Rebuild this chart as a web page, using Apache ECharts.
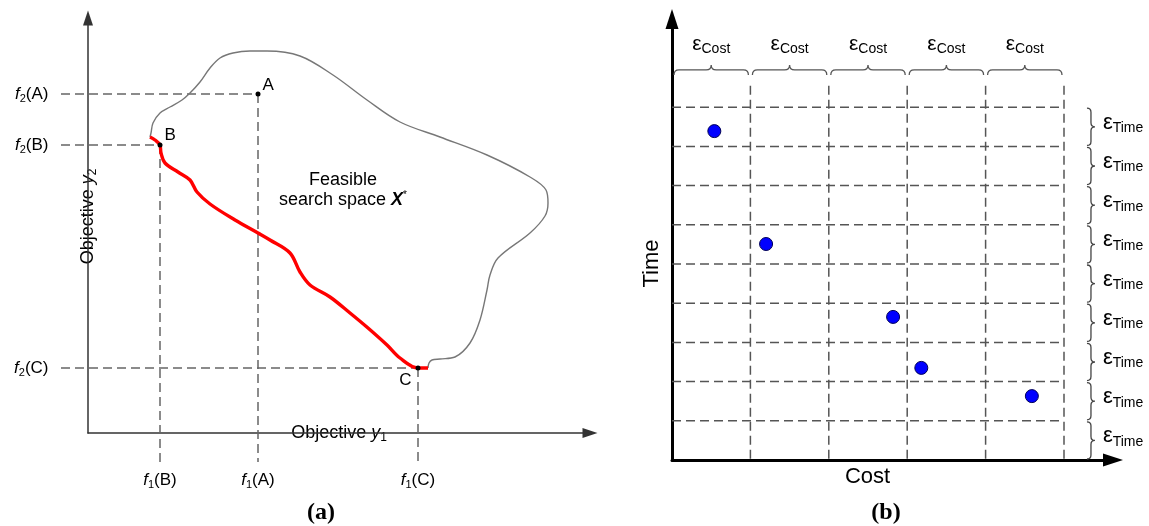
<!DOCTYPE html>
<html>
<head>
<meta charset="utf-8">
<script src="https://cdn.jsdelivr.net/npm/echarts@6.0.0/dist/echarts.min.js"></script>
<style>
html,body{margin:0;padding:0;background:#fff;}
#chart{width:1149px;height:526px;}
</style>
</head>
<body>
<div id="chart"></div>
<script>
// ===== Panel (a): objective space =====
const feasibleX = [12.4, 12.6, 13, 14.4, 16.4, 18.8, 20.4, 22.4, 24.4, 26.4, 29, 32.4, 35.8, 42.4, 49, 55.8, 62.4, 70.4, 79.8, 88.4, 91.6, 92, 91.4, 88.4, 82, 80.4, 79.8, 78.4, 76.4, 73.4, 70.4, 68.8, 68.2, 68];
const feasibleY = [59.2, 60, 62, 64, 65.2, 66.6, 68, 70.2, 73, 75, 76, 76.4, 76.4, 75.4, 71.6, 66.6, 62.2, 59.2, 55.6, 51.2, 48.6, 46, 43.4, 40, 35, 31.6, 28.6, 22.6, 18, 15.2, 14.8, 14.6, 14, 13];
const paretoX = [12.4, 13.4, 14.4, 14.6, 15.4, 18, 20.4, 21.8, 24.4, 29.4, 34, 36.4, 40.4, 42.4, 44.4, 48.4, 52.4, 56, 59.8, 62.4, 66, 68];
const paretoY = [59.2, 58.6, 57.6, 56, 54, 52.2, 50.6, 48.2, 45.8, 42.6, 40, 38.6, 36, 32.2, 29.6, 27.2, 24, 21, 17.6, 15, 13, 13];
const pointNames = ['A', 'B', 'C'];
const pointX = [34, 14.4, 66];
const pointY = [67.8, 57.6, 13];

// ===== Panel (b): epsilon grid of Cost / Time =====
const costSteps = [1, 2, 3, 4, 5];
const timeSteps = [1, 2, 3, 4, 5, 6, 7, 8, 9];
const solutionCost = [0.54, 1.2, 2.82, 3.18, 4.59];
const solutionTime = [8.39, 5.51, 3.65, 2.35, 1.63];

// ----- layout / style constants -----
const SANS = '"Liberation Sans", Arial, Helvetica, sans-serif';
const INK = '#000';
const A_LINE_LEFT = -5.4, A_LINE_BOTTOM = -5.8;
const B_VTOP = 9.55, B_COST_BRACE_Y = 9.95, B_COST_LABEL_Y = 10.6;
const B_TIME_BRACE_X = 5.344, B_TIME_LABEL_X = 5.49;
const INVISIBLE = { color: 'rgba(0,0,0,0)', opacity: 1 };

function dashedSegments(xi, segs, color) {
  return {
    type: 'custom', xAxisIndex: xi, yAxisIndex: xi, silent: true, z: 2, clip: false,
    data: segs,
    renderItem: (params, api) => {
      const p = api.coord([api.value(0), api.value(1)]);
      const q = api.coord([api.value(2), api.value(3)]);
      return { type: 'line', shape: { x1: p[0], y1: p[1], x2: q[0], y2: q[1] },
        style: { stroke: color, lineWidth: 1.5, lineDash: [9, 5], fill: null } };
    }
  };
}

const subRich = (size, sub) => ({
  f: { fontFamily: SANS, fontSize: size, fontStyle: 'italic', lineHeight: size + 4, color: INK },
  n: { fontFamily: SANS, fontSize: size, lineHeight: size + 4, color: INK },
  s: { fontFamily: SANS, fontSize: sub, lineHeight: sub, verticalAlign: 'bottom', color: INK }
});

const series = [];

// panel (a) curves
series.push({
  type: 'line', xAxisIndex: 0, yAxisIndex: 0, data: feasibleX.map((x, i) => [x, feasibleY[i]]),
  smooth: 0.35, symbol: 'none', showSymbol: false, clip: false, silent: true, z: 3,
  lineStyle: { color: '#777', width: 1.4 }
});
series.push({
  type: 'line', xAxisIndex: 0, yAxisIndex: 0, data: paretoX.map((x, i) => [x, paretoY[i]]),
  smooth: 0.35, symbol: 'none', showSymbol: false, clip: false, silent: true, z: 4,
  lineStyle: { color: '#ff0000', width: 3.4 }
});
// reference dashed lines from each point to both axes
const aSegs = [];
pointNames.forEach((n, i) => {
  aSegs.push([A_LINE_LEFT, pointY[i], pointX[i], pointY[i]]);
  aSegs.push([pointX[i], pointY[i], pointX[i], A_LINE_BOTTOM]);
});
series.push(dashedSegments(0, aSegs, '#666'));
// f2(.) labels
series.push({
  type: 'scatter', xAxisIndex: 0, yAxisIndex: 0, clip: false, silent: true, symbolSize: 1,
  itemStyle: INVISIBLE,
  data: pointNames.map((n, i) => ({ name: n, value: [A_LINE_LEFT, pointY[i]] })),
  label: { show: true, position: 'left', distance: 12, formatter: p => `{f|f}{s|2}{n|(${p.name})}`, rich: subRich(17, 11) }
});
// f1(.) labels
series.push({
  type: 'scatter', xAxisIndex: 0, yAxisIndex: 0, clip: false, silent: true, symbolSize: 1,
  itemStyle: INVISIBLE,
  data: pointNames.map((n, i) => ({ name: n, value: [pointX[i], A_LINE_BOTTOM] })),
  label: { show: true, position: 'bottom', distance: 7, formatter: p => `{f|f}{s|1}{n|(${p.name})}`, rich: subRich(17, 11) }
});
// points A, B, C
const letterPlace = {
  A: { position: 'right', distance: 2, offset: [0, -9] },
  B: { position: 'right', distance: 2, offset: [0, -10] },
  C: { position: 'left', distance: 4, offset: [0, 12] }
};
series.push({
  type: 'scatter', xAxisIndex: 0, yAxisIndex: 0, clip: false, silent: true, symbolSize: 5, z: 6,
  itemStyle: { color: '#000', opacity: 1 },
  data: pointNames.map((n, i) => ({
    name: n, value: [pointX[i], pointY[i]],
    label: Object.assign({ show: true, formatter: '{b}', fontFamily: SANS, fontSize: 17, color: INK }, letterPlace[n])
  }))
});
// feasible region text
series.push({
  type: 'scatter', xAxisIndex: 0, yAxisIndex: 0, clip: false, silent: true, symbolSize: 1,
  itemStyle: INVISIBLE,
  data: [{ name: 'Feasible', value: [51, 48.6] }],
  label: {
    show: true, position: 'inside', align: 'center',
    formatter: '{n|Feasible}\n{n|search space }{x|X}{u|*}',
    rich: {
      n: { fontFamily: SANS, fontSize: 18, lineHeight: 20, color: INK },
      x: { fontFamily: SANS, fontSize: 18, lineHeight: 20, fontWeight: 'bold', fontStyle: 'italic', color: INK },
      u: { fontFamily: SANS, fontSize: 10, lineHeight: 10, verticalAlign: 'top', color: INK }
    }
  }
});

// panel (b) dashed grid
const bSegs = [];
const lastCost = costSteps[costSteps.length - 1];
costSteps.forEach(c => bSegs.push([c, B_VTOP, c, 0]));
timeSteps.forEach(t => bSegs.push([0, t, lastCost, t]));
series.push(dashedSegments(1, bSegs, '#555'));

// solutions
series.push({
  type: 'scatter', xAxisIndex: 1, yAxisIndex: 1, symbolSize: 13, z: 6, silent: true,
  itemStyle: { color: '#0000ff', borderColor: '#000055', borderWidth: 1, opacity: 1 },
  data: solutionCost.map((c, i) => [c, solutionTime[i]])
});

// epsilon-cost braces
series.push({
  type: 'custom', xAxisIndex: 1, yAxisIndex: 1, silent: true, z: 5,
  data: costSteps.map(c => [c - 1, c]),
  renderItem: (params, api) => {
    const a = api.coord([api.value(0), B_COST_BRACE_Y]);
    const b = api.coord([api.value(1), B_COST_BRACE_Y]);
    const y = a[1], x0 = a[0] + 2, x1 = b[0] - 2, m = (x0 + x1) / 2, h = 5;
    const d = `M${x0},${y + h}Q${x0},${y} ${x0 + h},${y}L${m - h},${y}Q${m},${y} ${m},${y - h}Q${m},${y} ${m + h},${y}L${x1 - h},${y}Q${x1},${y} ${x1},${y + h}`;
    return { type: 'path', shape: { pathData: d }, style: { fill: 'none', stroke: '#555', lineWidth: 1.3 } };
  }
});
// epsilon-time braces
series.push({
  type: 'custom', xAxisIndex: 1, yAxisIndex: 1, silent: true, z: 5,
  data: timeSteps.map(t => [t - 1, t]),
  renderItem: (params, api) => {
    const top = api.coord([B_TIME_BRACE_X, api.value(1)]);
    const bot = api.coord([B_TIME_BRACE_X, api.value(0)]);
    const x = top[0], y0 = top[1] + 1, y1 = bot[1] - 1, m = (y0 + y1) / 2, h = 4;
    const d = `M${x - h},${y0}Q${x},${y0} ${x},${y0 + h}L${x},${m - h}Q${x},${m} ${x + h},${m}Q${x},${m} ${x},${m + h}L${x},${y1 - h}Q${x},${y1} ${x - h},${y1}`;
    return { type: 'path', shape: { pathData: d }, style: { fill: 'none', stroke: '#444', lineWidth: 1.3 } };
  }
});
// epsilon labels
const epsRich = (eps, sub) => ({
  e: { fontFamily: SANS, fontSize: eps, lineHeight: eps + 3, color: INK },
  s: { fontFamily: SANS, fontSize: sub, lineHeight: sub, verticalAlign: 'bottom', color: INK }
});
series.push({
  type: 'scatter', xAxisIndex: 1, yAxisIndex: 1, clip: false, silent: true, symbolSize: 1,
  itemStyle: INVISIBLE,
  data: costSteps.map(c => [c - 0.5, B_COST_LABEL_Y]),
  label: { show: true, position: 'inside', formatter: '{e|ε}{s|Cost}', rich: epsRich(21, 14) }
});
series.push({
  type: 'scatter', xAxisIndex: 1, yAxisIndex: 1, clip: false, silent: true, symbolSize: 1,
  itemStyle: INVISIBLE,
  data: timeSteps.map(t => [B_TIME_LABEL_X, t - 0.5]),
  label: { show: true, position: 'right', distance: 0, offset: [0, -4], formatter: '{e|ε}{s|Time}', rich: epsRich(22, 14) }
});

const hidden = { axisTick: { show: false }, axisLabel: { show: false }, splitLine: { show: false } };
const whiteTok = (o) => Object.assign({ backgroundColor: '#fff', color: INK, fontFamily: SANS }, o);

const option = {
  animation: false,
  backgroundColor: '#fff',
  grid: [
    { left: 88, top: 18, width: 502, height: 415, outerBoundsMode: 'none', containLabel: false },
    { left: 672, top: 19, width: 441, height: 441, outerBoundsMode: 'none', containLabel: false }
  ],
  xAxis: [
    Object.assign({
      gridIndex: 0, type: 'value', min: 0, max: 100.4,
      axisLine: { show: true, onZero: false, symbol: ['none', 'triangle'], symbolSize: [10, 15], lineStyle: { color: '#333', width: 1.5 } },
      name: '{o|Objective }{i|y}{s|1}', nameLocation: 'middle', nameGap: 0, nameMoveOverlap: false,
      nameTextStyle: { verticalAlign: 'middle', rich: {
        o: whiteTok({ fontSize: 18, lineHeight: 22 }),
        i: whiteTok({ fontSize: 18, lineHeight: 22, fontStyle: 'italic' }),
        s: whiteTok({ fontSize: 12, lineHeight: 12, verticalAlign: 'bottom' })
      } }
    }, hidden),
    Object.assign({
      gridIndex: 1, type: 'value', min: 0, max: 5.625,
      axisLine: { show: true, onZero: false, symbol: ['none', 'triangle'], symbolSize: [13, 20], lineStyle: { color: '#000', width: 3 } },
      name: '{c|Cost}{p|}', nameLocation: 'middle', nameGap: 5, nameMoveOverlap: false,
      nameTextStyle: { rich: { c: { fontFamily: SANS, fontSize: 22, lineHeight: 24, color: INK }, p: { width: 50 } } }
    }, hidden)
  ],
  yAxis: [
    Object.assign({
      gridIndex: 0, type: 'value', min: 0, max: 83,
      axisLine: { show: true, onZero: false, symbol: ['none', 'triangle'], symbolSize: [10, 15], lineStyle: { color: '#333', width: 1.5 } },
      name: '{p|}{o|Objective }{i|y}{s|2}', nameLocation: 'middle', nameGap: 0, nameMoveOverlap: false,
      nameTextStyle: { verticalAlign: 'middle', rich: {
        p: { width: 18 },
        o: whiteTok({ fontSize: 18, lineHeight: 22 }),
        i: whiteTok({ fontSize: 18, lineHeight: 22, fontStyle: 'italic' }),
        s: whiteTok({ fontSize: 12, lineHeight: 12, verticalAlign: 'bottom' })
      } }
    }, hidden),
    Object.assign({
      gridIndex: 1, type: 'value', min: 0, max: 11.25,
      axisLine: { show: true, onZero: false, symbol: ['none', 'triangle'], symbolSize: [13, 20], lineStyle: { color: '#000', width: 3 } },
      name: '{t|Time}{p|}', nameLocation: 'middle', nameGap: 8, nameMoveOverlap: false,
      nameTextStyle: { rich: { t: { fontFamily: SANS, fontSize: 22, lineHeight: 24, color: INK }, p: { width: 48 } } }
    }, hidden)
  ],
  graphic: [
    { type: 'text', x: 321, y: 513, style: { text: '(a)', font: 'bold 24px "Liberation Serif", "Times New Roman", serif', fill: '#000', align: 'center', verticalAlign: 'middle' } },
    { type: 'text', x: 886, y: 513, style: { text: '(b)', font: 'bold 24px "Liberation Serif", "Times New Roman", serif', fill: '#000', align: 'center', verticalAlign: 'middle' } }
  ],
  series: series
};

const chart = echarts.init(document.getElementById('chart'), null, { renderer: 'canvas' });
chart.setOption(option);
</script>
</body>
</html>
